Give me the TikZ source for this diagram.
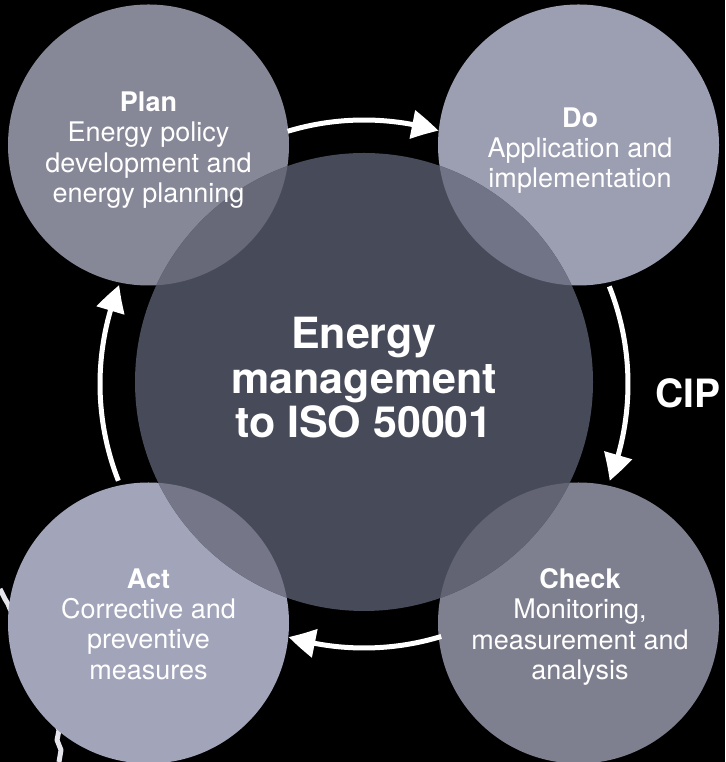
\documentclass[tikz,border=0pt]{standalone}
\usepackage{fontspec}
\setmainfont{TeX Gyre Heros}
\usetikzlibrary{arrows.meta,bending}
\definecolor{bgcol}{HTML}{000000}
\definecolor{plancol}{HTML}{868797}
\definecolor{docol}{HTML}{9C9EB2}
\definecolor{actcol}{HTML}{A2A4BA}
\definecolor{checkcol}{HTML}{7E7F8F}
\definecolor{corecol}{HTML}{474A59}
\definecolor{wirecol}{HTML}{E4E4EA}
\tikzset{
  lbl/.style={text=white, align=center, inner sep=0pt,
    font=\fontsize{27}{30.3}\selectfont},
  corelbl/.style={text=white, align=center, inner sep=0pt,
    font=\bfseries\fontsize{43}{44.5}\selectfont},
  ciplbl/.style={text=white, inner sep=0pt,
    font=\bfseries\fontsize{39}{41}\selectfont},
  cyc/.style={draw=white, line width=5pt, -{Triangle[length=27pt,width=28pt,bend]}},
  wire/.style={draw=wirecol, line width=5pt, line join=round},
  small/.style={radius=140.5},
  big/.style={radius=229},
}
\begin{document}
\begin{tikzpicture}[x=1pt,y=1pt]
\fill[bgcol] (0,0) rectangle (725,762);
\useasboundingbox (0,0) rectangle (725,762);
% background wire fragments (photo detail)
\draw[wire] (0,173) -- (3,167) -- (5,163) -- (8,158) -- (10,153) -- (14,148);
\draw[wire] (55,42) -- (59,32) -- (57,22) -- (61,12) -- (59,0);
% centres
\coordinate (P) at (148.5,617);
\coordinate (D) at (578.5,617);
\coordinate (A) at (148.5,139);
\coordinate (K) at (578.5,139);
\coordinate (C) at (364,380);
\coordinate (O) at (364,378);
% circles
\fill[plancol] (P) circle [small];
\fill[docol] (D) circle [small];
\fill[actcol] (A) circle [small];
\fill[checkcol] (K) circle [small];
\fill[corecol] (C) circle [big];
\begin{scope}\clip (P) circle [small]; \fill[plancol!50!corecol] (C) circle [big];\end{scope}
\begin{scope}\clip (D) circle [small]; \fill[docol!50!corecol] (C) circle [big];\end{scope}
\begin{scope}\clip (A) circle [small]; \fill[actcol!50!corecol] (C) circle [big];\end{scope}
\begin{scope}\clip (K) circle [small]; \fill[checkcol!50!corecol] (C) circle [big];\end{scope}
% cycle arrows
\draw[cyc] ([shift={(106.8:264)}]O) arc [start angle=106.8, end angle=73.6, radius=264];
\draw[cyc] ([shift={(21.7:264)}]O) arc [start angle=21.7, end angle=-21.5, radius=264];
\draw[cyc] ([shift={(-73:264)}]O) arc [start angle=-73, end angle=-106.6, radius=264];
\draw[cyc] ([shift={(201.5:264)}]O) arc [start angle=201.5, end angle=158, radius=264];
% texts
\node[lbl] (plantxt) at (148.5,612) {\textbf{Plan}\\Energy policy\\development and\\energy planning};
\node[lbl] (dotxt) at (580,611.5) {\textbf{Do}\\Application and\\implementation};
\node[lbl] (acttxt) at (148.5,138) {\textbf{Act}\\Corrective and\\preventive\\measures};
\node[lbl] (checktxt) at (580,135) {\textbf{Check}\\Monitoring,\\measurement and\\analysis};
\node[corelbl] (coretxt) at (364,384) {Energy\\management\\to ISO 50001};
\node[ciplbl, anchor=base west] (cip) at (655,354) {CIP};
\end{tikzpicture}
\end{document}
